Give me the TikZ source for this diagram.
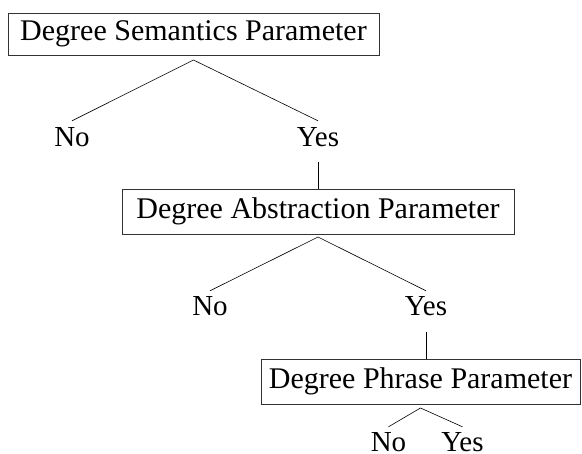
\documentclass[tikz,border=0pt]{standalone}
\usepackage{fontspec}
\setmainfont{Liberation Serif}
\begin{document}
\begin{tikzpicture}[x=1pt,y=-1pt,
  box/.style={draw=black!80,line width=0.7pt,inner sep=0pt,outer sep=0pt,font=\fontsize{30}{32}\selectfont},
  lab/.style={anchor=base,inner sep=0pt,font=\fontsize{29}{31}\selectfont},
  edge/.style={line width=0.6pt}]
\useasboundingbox (0,0) rectangle (582,454);
\node[box,minimum width=371pt,minimum height=42pt] (b1) at (193.5,34) {Degree Semantics Parameter};
\node[lab] (no1) at (72,147) {No};
\node[lab] (yes1) at (318,147) {Yes};
\node[box,minimum width=392pt,minimum height=45pt] (b2) at (318,211.5) {Degree Abstraction Parameter};
\node[lab] (no2) at (210,316) {No};
\node[lab] (yes2) at (426,316) {Yes};
\node[box,minimum width=319pt,minimum height=45pt] (b3) at (420.5,381.5) {Degree Phrase Parameter};
\node[lab] (no3) at (388.5,452) {No};
\node[lab] (yes3) at (462.5,452) {Yes};
\draw[edge] ([yshift=7pt]no1.north) -- ([yshift=-5pt]b1.south) -- ([yshift=7pt]yes1.north);
\draw[edge] ([yshift=-15pt]yes1.base) -- (yes1.base |- b2.north);
\draw[edge] ([yshift=6pt]no2.north) -- ([yshift=-3pt]b2.south) -- ([yshift=6pt]yes2.north);
\draw[edge] ([yshift=-16pt]yes2.base) -- (yes2.base |- b3.north);
\draw[edge] ([yshift=6pt]no3.north) -- ([yshift=-4pt]b3.south) -- ([yshift=6pt]yes3.north);
\end{tikzpicture}
\end{document}
